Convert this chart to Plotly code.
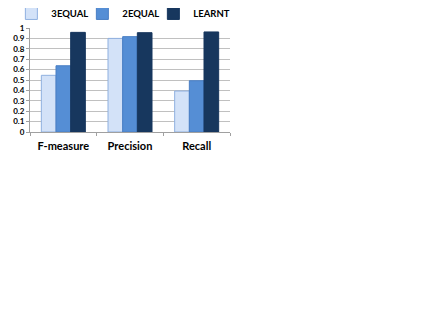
import plotly.graph_objects as go

categories = ["F-measure", "Precision", "Recall"]
equal3 = [0.545, 0.90, 0.394]
equal2 = [0.637, 0.917, 0.493]
learnt = [0.958, 0.955, 0.962]
yticks = [0, 0.1, 0.2, 0.3, 0.4, 0.5, 0.6, 0.7, 0.8, 0.9, 1]
ylabels = ["0", "0.1", "0.2", "0.3", "0.4", "0.5", "0.6", "0.7", "0.8", "0.9", "1"]

fig = go.Figure()
fig.add_trace(go.Bar(x=categories, y=equal3, name="3EQUAL", legendwidth=26,
                     marker=dict(color="#d3e2f8", line=dict(color="#8fb0e0", width=1))))
fig.add_trace(go.Bar(x=categories, y=equal2, name="2EQUAL", legendwidth=26,
                     marker=dict(color="#558ed5", line=dict(color="#4a7fc4", width=1))))
fig.add_trace(go.Bar(x=categories, y=learnt, name="LEARNT", legendwidth=42,
                     marker=dict(color="#17375e", line=dict(color="#17375e", width=1))))

# page body adds an 8px offset; wide paper area with a narrow x domain
# so the horizontal legend has room for one row
fig.update_layout(
    width=436, height=327,
    margin=dict(l=22, r=0, t=20, b=203, autoexpand=False),
    paper_bgcolor="white", plot_bgcolor="white",
    barmode="group", bargap=0.34, bargroupgap=0,
    font=dict(family="Lato", color="black"),
    legend=dict(orientation="h", x=-0.045, xanchor="left", y=1.14, yanchor="middle",
                font=dict(size=9.5, family="Lato", weight="bold"),
                bgcolor="rgba(0,0,0,0)",
                itemwidth=30, entrywidthmode="pixels",
                tracegroupgap=0),
    showlegend=True,
)
fig.update_yaxes(range=[0, 1], tickvals=yticks, ticktext=ylabels,
                 showgrid=True, gridcolor="#c0c0c0", gridwidth=1,
                 showline=True, linecolor="#a0a0a0", zeroline=False,
                 tickfont=dict(size=8, family="Lato", weight="bold"),
                 ticks="outside", ticklen=3, tickcolor="#a0a0a0")
fig.update_xaxes(domain=[0, 200 / 414], showline=True, linecolor="#a0a0a0",
                 tickfont=dict(size=11, family="Lato", weight="bold"),
                 ticks="outside", tickson="boundaries", ticklen=3, tickcolor="#a0a0a0",
                 ticklabelstandoff=4)

fig.write_html("out.html")
